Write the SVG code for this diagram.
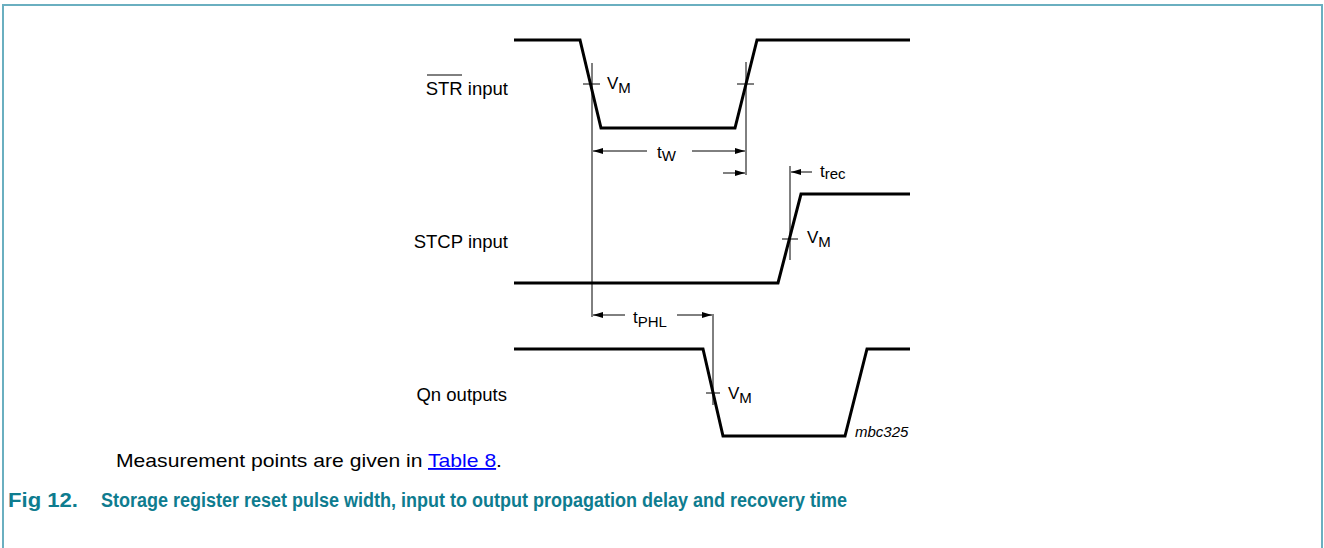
<svg xmlns="http://www.w3.org/2000/svg" width="1324" height="548" viewBox="0 0 1324 548">
<defs>
<marker id="ah" viewBox="0 0 10 6" refX="10" refY="3" markerWidth="10" markerHeight="6" markerUnits="userSpaceOnUse" orient="auto">
<path d="M0,0 L10,3 L0,6 Z" fill="#000"/>
</marker>
</defs>
<style>
.frame{fill:none;stroke:#6aafc0;stroke-width:2}
.wave{fill:none;stroke:#000;stroke-width:3;stroke-linejoin:miter}
.thin{fill:none;stroke:#000;stroke-width:1}
.arr{fill:none;stroke:#000;stroke-width:1;marker-end:url(#ah)}
text{font-family:"Liberation Sans",Arial,sans-serif;fill:#000}
.lbl{font-size:18.5px}
.sym{font-size:17px}
.sub{font-size:15px}
.note{font-size:18.5px}
.cap{font-size:20px;font-weight:bold;fill:#0e7c8f}
.id{font-size:15px;font-style:italic}
</style>
<rect id="frame" class="frame" x="3" y="5" width="1319" height="560"/>
<g id="str">
<path class="wave" d="M514,40 H580 L601,128 H735 L757,40 H910"/>
<text class="lbl" x="508" y="95" text-anchor="end">STR input</text>
<line class="thin" x1="427" y1="75" x2="462" y2="75"/>
</g>
<g id="stcp">
<path class="wave" d="M514,283 H778 L801,194 H910"/>
<text class="lbl" x="508" y="248" text-anchor="end">STCP input</text>
</g>
<g id="qn">
<path class="wave" d="M514,349 H703 L723,436 H845 L867,349 H910"/>
<text class="lbl" x="507" y="401" text-anchor="end">Qn outputs</text>
</g>
<g id="connectors">
<line class="thin" x1="592" y1="63" x2="592" y2="317"/>
<line class="thin" x1="583" y1="84" x2="600" y2="84"/>
<line class="thin" x1="746" y1="62" x2="746" y2="175"/>
<line class="thin" x1="737" y1="84" x2="754" y2="84"/>
<line class="arr" x1="647" y1="151" x2="593" y2="151"/>
<line class="arr" x1="692" y1="151" x2="745" y2="151"/>
<line class="arr" x1="723" y1="173" x2="745" y2="173"/>
<line class="thin" x1="790" y1="166" x2="790" y2="260"/>
<line class="thin" x1="782" y1="239" x2="798" y2="239"/>
<line class="arr" x1="812" y1="172" x2="791" y2="172"/>
<line class="thin" x1="713" y1="314" x2="713" y2="405"/>
<line class="thin" x1="706" y1="393" x2="720" y2="393"/>
<line class="arr" x1="625" y1="315" x2="593" y2="315"/>
<line class="arr" x1="677" y1="315" x2="712" y2="315"/>
</g>
<g id="labels">
<text class="sym" x="607" y="89">V<tspan class="sub" dy="4">M</tspan></text>
<text class="sym" x="657" y="158">t<tspan class="sub" dy="3">W</tspan></text>
<text class="sym" x="820" y="177">t<tspan class="sub" dy="2">rec</tspan></text>
<text class="sym" x="807" y="243">V<tspan class="sub" dy="4">M</tspan></text>
<text class="sym" x="633" y="323">t<tspan class="sub" dy="4">PHL</tspan></text>
<text class="sym" x="728" y="399">V<tspan class="sub" dy="4">M</tspan></text>
<text class="id" x="855" y="437">mbc325</text>
</g>
<g id="caption">
<text class="note" x="116" y="467" textLength="386" lengthAdjust="spacingAndGlyphs">Measurement points are given in <tspan fill="#0000ff" text-decoration="underline">Table 8</tspan>.</text>
<text class="cap" x="8" y="507" textLength="70" lengthAdjust="spacingAndGlyphs">Fig 12.</text>
<text class="cap" x="101" y="507" textLength="746" lengthAdjust="spacingAndGlyphs">Storage register reset pulse width, input to output propagation delay and recovery time</text>
</g>
</svg>
